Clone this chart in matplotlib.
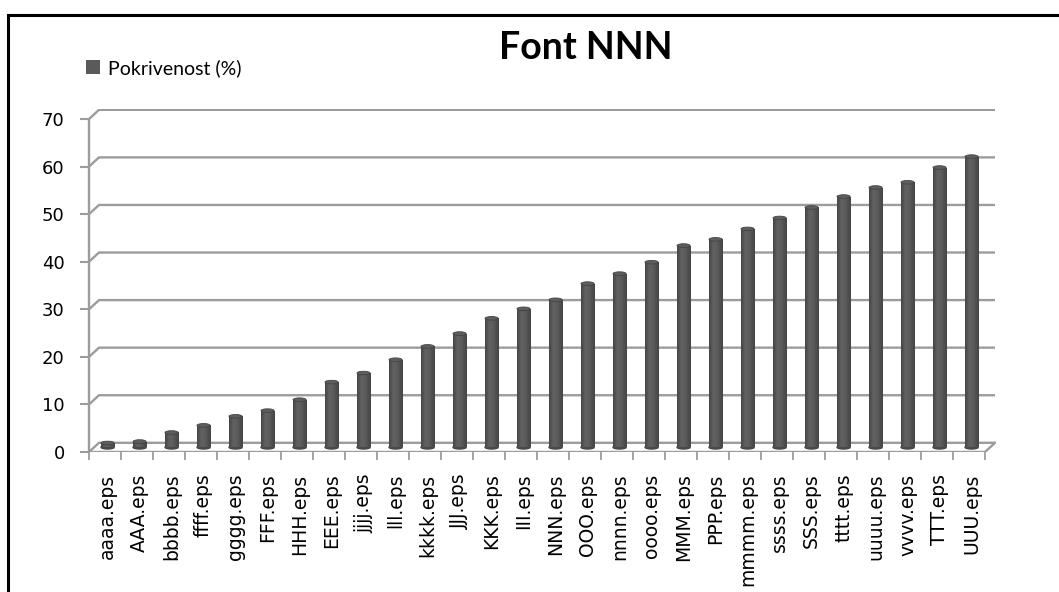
import numpy as np
import matplotlib.pyplot as plt
from matplotlib.patches import Ellipse, Rectangle

plt.rcParams['font.family'] = 'DejaVu Sans'

# coverage per font file, sorted ascending
files = ['aaaa.eps', 'AAA.eps', 'bbbb.eps', 'ffff.eps', 'gggg.eps', 'FFF.eps',
         'HHH.eps', 'EEE.eps', 'jjjj.eps', 'lll.eps', 'kkkk.eps', 'JJJ.eps',
         'KKK.eps', 'III.eps', 'NNN.eps', 'OOO.eps', 'nnnn.eps', 'oooo.eps',
         'MMM.eps', 'PPP.eps', 'mmmm.eps', 'ssss.eps', 'SSS.eps', 'tttt.eps',
         'uuuu.eps', 'vvvv.eps', 'TTT.eps', 'UUU.eps']
coverage = [0.9, 1.2, 3.1, 4.6, 6.5, 7.7, 10.0, 13.7, 15.6, 18.4, 21.2, 23.9,
            27.1, 29.1, 31.0, 34.4, 36.5, 38.9, 42.4, 43.7, 45.9, 48.2, 50.4,
            52.7, 54.6, 55.7, 58.8, 61.1]
yticks = list(range(0, 80, 10))
series_name = 'Pokrivenost (%)'
title = 'Font NNN'

W, H = 1059, 592
PX_X = 32.0      # pixels per category
PX_Y = 4.757     # pixels per percent
N = len(files)
DX, DY = 10 / PX_X, 9.2 / PX_Y   # depth offset of the back wall
BAR_W = 0.41
BASE = 1.0       # bars stand half way into the floor

fig = plt.figure(figsize=(W / 100, H / 100), dpi=100)
fig.patch.set_facecolor('white')
ax = fig.add_axes([89 / W, 140 / H, 28.35 * PX_X / W, 72 * PX_Y / H])
xlim, ylim = (0, 28.35), (0, 72)

grid_c = '#9c9c9c'
# back wall gridlines with the slanted side wall part
for v in yticks:
    ax.plot([0, DX, N + DX], [v, v + DY, v + DY], color=grid_c, lw=1.7,
            solid_capstyle='butt', zorder=1)
# floor front edge and right side
ax.plot([0, N, N + DX], [0, 0, DY], color=grid_c, lw=1.7, zorder=1)

x = np.arange(N) + 0.58
bars = ax.bar(x, coverage, width=BAR_W, bottom=BASE, color='#5a5a5a',
              edgecolor='none', zorder=3, label=series_name)

# cylinder shading
g = np.interp(np.linspace(0, 1, 64), [0, 0.3, 0.55, 1], [0.27, 0.38, 0.37, 0.27])
grad = np.tile(g, (2, 1))
cap_h = 3.6 / PX_Y
for rect, v in zip(bars, coverage):
    x0 = rect.get_x()
    bot = Ellipse((x0 + BAR_W / 2, BASE), BAR_W, cap_h, color='#4a4a4a', zorder=2)
    ax.add_patch(bot)
    im = ax.imshow(grad, extent=[x0, x0 + BAR_W, BASE, BASE + v], aspect='auto',
                   cmap='gray', vmin=0, vmax=1, zorder=3, interpolation='bilinear')
    im.set_clip_path(rect)
    cap = Ellipse((x0 + BAR_W / 2, BASE + v), BAR_W, cap_h, facecolor='#5e5e5e',
                  edgecolor='#444444', lw=0.6, zorder=4)
    ax.add_patch(cap)

ax.set_xlim(*xlim)
ax.set_ylim(*ylim)

for s in ['top', 'right']:
    ax.spines[s].set_visible(False)
ax.spines['left'].set_bounds(0, 70)
ax.spines['bottom'].set_visible(False)
ax.spines['left'].set_color(grid_c)
ax.spines['left'].set_linewidth(1.7)

ax.set_yticks(yticks)
ax.tick_params(axis='y', length=6.5, width=1.5, color=grid_c, pad=11,
               labelsize=13, labelcolor='black')
ax.set_xticks(np.arange(N + 1))
ax.set_xticklabels([])
ax.tick_params(axis='x', which='major', length=6, width=1.3, color=grid_c)
ax.set_xticks(x, minor=True)
ax.set_xticklabels(files, minor=True, rotation=90, fontsize=13.5, va='top')
ax.tick_params(axis='x', which='minor', length=0, pad=15.5)
ax.patch.set_alpha(0)

ax.legend(loc='center left', bbox_to_anchor=(68 / W, 1 - 68 / H),
          bbox_transform=fig.transFigure, frameon=False, handlelength=0.75,
          handleheight=0.75, handletextpad=0.4, prop={'family': 'Lato', 'size': 14})

fig.text(586 / W, 1 - 48 / H, title, ha='center', va='center',
         fontfamily='Lato', fontweight='bold', fontsize=27)

# outer chart frame, cut by the image border
fig.add_artist(Rectangle((8 / W, -0.1), 1.2, 1 - 15 / H + 0.1, transform=fig.transFigure,
                         fill=False, ec='black', lw=2.2))

fig.savefig('out.png', dpi=100)
